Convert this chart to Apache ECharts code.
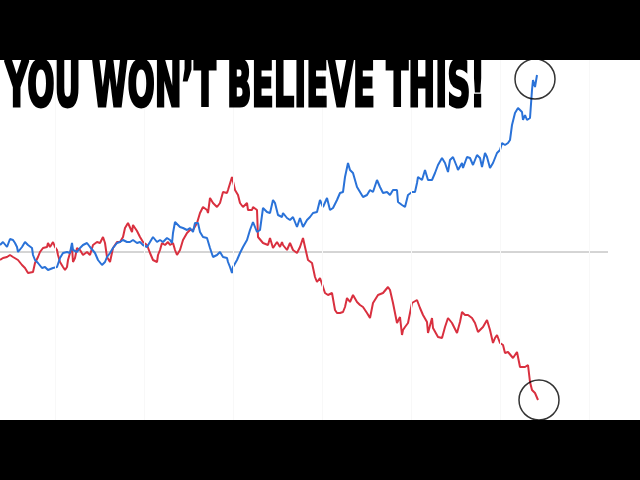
<!DOCTYPE html>
<html>
<head>
<meta charset="utf-8">
<script src="https://cdn.jsdelivr.net/npm/echarts@6/dist/echarts.min.js"></script>
<style>html,body{margin:0;padding:0;background:#fff;}#c{width:640px;height:480px;}</style>
</head>
<body>
<div id="c"></div>
<script>
var titleText = 'YOU WON\u2019T BELIEVE THIS!';

var blueSeries = [[0,7],[3,10],[7,5],[10,13],[13,12],[15,9],[17,5],[18,0],[20,2],[22,5],[25,10],[28,7],[32,4],[33,-3],[35,-8],[38,-11],[42,-16],[45,-15],[48,-18],[50,-20],[53,-16],[57,-15],[60,-6],[63,-1],[67,0],[70,-1],[72,9],[73,2],[77,0],[80,4],[83,7],[87,9],[90,5],[92,7],[95,-1],[98,-8],[102,-13],[105,-10],[107,-5],[110,-1],[113,4],[117,9],[120,10],[123,12],[127,10],[130,10],[133,12],[137,9],[140,10],[143,7],[147,5],[150,10],[153,15],[157,10],[160,12],[163,10],[167,14],[170,12],[172,9],[173,19],[175,30],[177,32],[180,25],[183,24],[187,22],[190,24],[193,20],[195,29],[198,29],[200,20],[203,15],[207,14],[210,4],[213,-5],[217,-3],[220,0],[223,-5],[227,-6],[228,-10],[230,-15],[232,-21],[233,-15],[237,-8],[240,-1],[243,5],[247,12],[250,22],[253,30],[257,20],[260,22],[263,44],[267,40],[268,42],[270,39],[273,52],[275,49],[278,37],[282,35],[283,39],[287,34],[290,32],[293,35],[297,25],[300,34],[303,25],[307,32],[310,35],[313,39],[317,40],[320,52],[323,45],[327,54],[330,42],[333,44],[337,52],[340,59],[343,60],[345,75],[347,77],[348,89],[350,82],[353,79],[357,65],[360,60],[363,55],[367,57],[370,62],[373,60],[377,72],[380,65],[383,59],[387,60],[390,57],[393,62],[395,64],[397,62],[398,50],[402,47],[405,45],[408,57],[412,60],[415,60],[417,69],[418,75],[422,72],[425,82],[428,72],[432,72],[435,79],[438,87],[442,94],[445,89],[448,80],[450,92],[453,95],[457,85],[458,82],[462,89],[463,84],[467,95],[470,94],[473,87],[477,97],[480,94],[482,85],[485,99],[487,95],[490,84],[493,89],[497,99],[500,102],[502,109],[505,107],[508,109],[510,112],[512,127],[515,139],[518,144],[522,140],[523,132],[525,137],[527,132],[530,134],[532,162],[533,172],[535,165],[537,177]];

var redSeries = [[0,-8],[3,-6],[7,-5],[10,-3],[12,-1],[13,-5],[15,-3],[18,-8],[22,-13],[25,-16],[28,-21],[30,-23],[33,-20],[35,-11],[38,-5],[40,0],[43,4],[47,5],[48,9],[50,5],[53,10],[55,5],[57,2],[58,-3],[60,-10],[63,-15],[65,-18],[67,-15],[68,-8],[70,-1],[72,5],[73,-10],[75,-6],[77,4],[80,2],[83,-3],[87,0],[90,-3],[93,7],[97,10],[100,9],[103,15],[105,9],[107,-5],[110,-10],[113,4],[117,10],[120,10],[123,15],[125,24],[128,29],[132,20],[133,27],[137,21],[140,15],[143,10],[147,7],[150,-1],[153,-8],[157,-10],[158,-3],[160,2],[162,9],[165,7],[168,10],[170,7],[173,9],[175,2],[177,-3],[180,2],[183,12],[187,19],[190,22],[193,22],[197,29],[200,39],[203,45],[207,42],[208,39],[210,54],[213,49],[217,45],[220,49],[223,60],[227,59],[228,62],[232,75],[235,62],[238,57],[240,49],[243,45],[247,49],[248,42],[252,42],[253,45],[257,42],[258,15],[260,14],[263,9],[265,9],[268,7],[270,14],[273,4],[277,10],[280,5],[282,10],[283,7],[287,2],[290,9],[293,2],[297,-1],[300,5],[303,14],[305,5],[308,-8],[310,-6],[312,-11],[315,-25],[317,-30],[320,-26],[322,-25],[325,-41],[328,-43],[332,-41],[335,-58],[337,-61],[340,-61],[343,-60],[345,-55],[347,-46],[350,-50],[353,-43],[357,-50],[360,-53],[363,-55],[367,-61],[370,-66],[373,-51],[375,-50],[378,-43],[383,-41],[388,-35],[390,-38],[393,-51],[397,-71],[400,-65],[402,-83],[403,-78],[405,-75],[407,-76],[408,-71],[410,-73],[412,-51],[413,-50],[417,-48],[420,-56],[423,-63],[427,-70],[428,-81],[432,-66],[433,-76],[435,-78],[438,-85],[442,-86],[445,-75],[448,-66],[452,-71],[453,-70],[457,-81],[460,-70],[462,-60],[465,-63],[468,-63],[472,-66],[475,-71],[478,-80],[483,-75],[487,-68],[490,-78],[493,-91],[495,-86],[497,-83],[500,-91],[503,-93],[505,-101],[508,-100],[513,-106],[517,-100],[520,-115],[525,-115],[528,-113],[530,-130],[532,-138],[535,-141],[538,-148]];

var baseline = [[0,0],[608,0]];
var circleMarks = [[535,173],[539,-148]];
var gridX = [55,144,233,322,411,500,589];

var chart = echarts.init(document.getElementById('c'), null, {renderer:'canvas'});

var fontSpec = 'bold 62px "DejaVu Sans", "Liberation Sans", sans-serif';
var cv = document.createElement('canvas').getContext('2d');
cv.font = fontSpec;
var tw = cv.measureText(titleText).width;
var sx = 480 / tw;

chart.setOption({
  backgroundColor: '#ffffff',
  animation: false,
  grid: {left: 0, right: 0, top: 60, bottom: 60},
  xAxis: {type: 'value', min: 0, max: 640, show: false},
  yAxis: {type: 'value', min: -168, max: 192, show: false},
  graphic: [
    {type: 'rect', left: 0, top: 0, shape: {width: 640, height: 60}, style: {fill: '#000'}, z: 10},
    {type: 'rect', left: 0, top: 420, shape: {width: 640, height: 60}, style: {fill: '#000'}, z: 10},
    {type: 'text', x: 5, y: 90, scaleX: sx, z: 20,
     style: {text: titleText, font: fontSpec, fill: '#000', stroke: '#000', lineWidth: 3, verticalAlign: 'middle', align: 'left'}}
  ],
  series: [
    {type: 'line', data: gridX.map(function(){return null;}), silent: true,
     markLine: {silent: true, symbol: 'none', label: {show: false},
       lineStyle: {color: '#f8f8f8', width: 1, type: 'solid'},
       data: gridX.map(function(v){return {xAxis: v};})}},
    {type: 'line', data: baseline, symbol: 'none', silent: true,
     lineStyle: {color: '#aaaaaa', width: 1}, z: 1},
    {type: 'line', data: redSeries, symbol: 'none',
     lineStyle: {color: '#d9303f', width: 2}, z: 3},
    {type: 'line', data: blueSeries, symbol: 'none',
     lineStyle: {color: '#2a72d8', width: 2}, z: 4},
    {type: 'scatter', data: circleMarks, symbol: 'circle', symbolSize: 40,
     itemStyle: {color: 'rgba(0,0,0,0)', borderColor: '#000', borderWidth: 1.5}, z: 5}
  ]
});
</script>
</body>
</html>
